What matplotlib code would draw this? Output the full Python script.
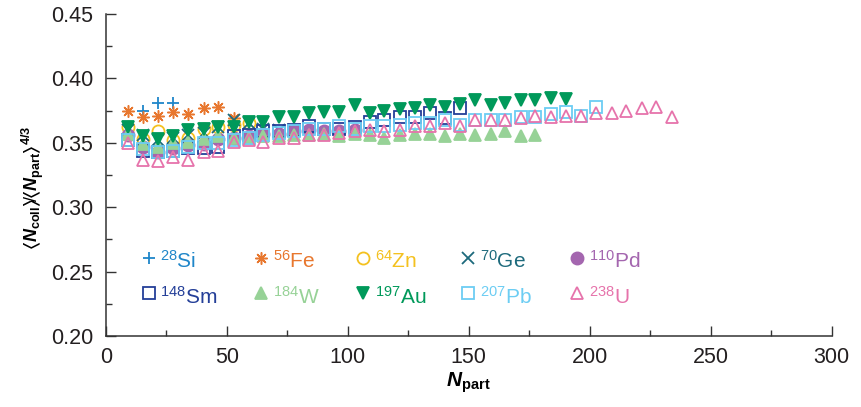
import matplotlib
matplotlib.use("Agg")
import matplotlib.pyplot as plt
from matplotlib.ticker import MultipleLocator

plt.rcParams['font.family'] = ['Liberation Sans', 'DejaVu Sans']
plt.rcParams['mathtext.fontset'] = 'custom'
plt.rcParams['mathtext.rm'] = 'Liberation Sans'
plt.rcParams['mathtext.it'] = 'Liberation Sans:italic'
plt.rcParams['mathtext.bf'] = 'Liberation Sans:bold'
plt.rcParams['mathtext.bfit'] = 'Liberation Sans:italic:bold'
plt.rcParams['mathtext.fallback'] = 'stixsans'

# centrality bins (Npart)
npart = [9, 15.5, 21.5, 28, 34, 40.5, 46.5, 53, 59, 65, 71.5, 78, 84, 90, 96.5,
         103, 109, 115, 121.5, 128, 134, 140, 146.5, 152.5, 159, 165, 171.5,
         177.5, 184, 190, 196.5, 202.5, 209, 215, 221.5, 227.5, 234]

si_x = [15.5, 21.5, 28]
si = [0.375, 0.381, 0.381]
fe = [0.375, 0.370, 0.371, 0.374, 0.372, 0.377, 0.378, 0.369]
zn = [0.362, 0.353, 0.359, 0.352, 0.354, 0.361, 0.362, 0.364, 0.365]
ge = [0.360, 0.356, 0.352, 0.354, 0.356, 0.358, 0.362, 0.368, 0.365, 0.361,
      0.360, 0.360]
pd_ = [0.356, 0.347, 0.343, 0.346, 0.348, 0.349, 0.353, 0.354, 0.355, 0.357,
       0.357, 0.359, 0.360, 0.359, 0.359, 0.360]
sm = [0.352, 0.344, 0.343, 0.344, 0.346, 0.346, 0.347, 0.355, 0.356, 0.359,
      0.359, 0.360, 0.363, 0.361, 0.361, 0.362, 0.366, 0.368, 0.370, 0.370,
      0.373, 0.369, 0.377]
w = [0.357, 0.349, 0.347, 0.350, 0.351, 0.353, 0.355, 0.354, 0.354, 0.355,
     0.355, 0.356, 0.356, 0.357, 0.355, 0.357, 0.356, 0.354, 0.356, 0.357,
     0.357, 0.355, 0.357, 0.356, 0.357, 0.359, 0.355, 0.356]
au = [0.362, 0.355, 0.353, 0.355, 0.360, 0.361, 0.362, 0.362, 0.366, 0.366,
      0.370, 0.370, 0.373, 0.374, 0.374, 0.379, 0.373, 0.375, 0.376, 0.377,
      0.379, 0.378, 0.380, 0.383, 0.379, 0.381, 0.383, 0.383, 0.385, 0.384]
pb = [0.352, 0.345, 0.343, 0.344, 0.347, 0.350, 0.350, 0.352, 0.354, 0.356,
      0.358, 0.359, 0.361, 0.361, 0.363, 0.361, 0.363, 0.363, 0.364, 0.365,
      0.365, 0.368, 0.364, 0.368, 0.368, 0.368, 0.370, 0.370, 0.372, 0.374,
      0.371, 0.378]
u = [0.350, 0.337, 0.336, 0.339, 0.337, 0.343, 0.344, 0.351, 0.352, 0.351,
     0.354, 0.354, 0.356, 0.356, 0.358, 0.359, 0.360, 0.359, 0.360, 0.363,
     0.363, 0.365, 0.363, 0.368, 0.368, 0.368, 0.369, 0.371, 0.370, 0.371,
     0.371, 0.373, 0.373, 0.375, 0.377, 0.378, 0.370]

# label, x, y, marker, color, filled
series = [
    (r'$^{\mathrm{28}}$Si', si_x, si, '+', '#1f86c9', True),
    (r'$^{\mathrm{56}}$Fe', npart[:len(fe)], fe, (8, 2, 0), '#e8772e', True),
    (r'$^{\mathrm{64}}$Zn', npart[:len(zn)], zn, 'o', '#f4c11f', False),
    (r'$^{\mathrm{70}}$Ge', npart[:len(ge)], ge, 'x', '#1d6a7c', True),
    (r'$^{\mathrm{110}}$Pd', npart[:len(pd_)], pd_, 'o', '#a466af', True),
    (r'$^{\mathrm{148}}$Sm', npart[:len(sm)], sm, 's', '#243f98', False),
    (r'$^{\mathrm{184}}$W', npart[:len(w)], w, '^', '#97d297', True),
    (r'$^{\mathrm{197}}$Au', npart[:len(au)], au, 'v', '#00995a', True),
    (r'$^{\mathrm{207}}$Pb', npart[:len(pb)], pb, 's', '#6ccdf3', False),
    (r'$^{\mathrm{238}}$U', npart[:len(u)], u, '^', '#e673ab', False),
]

fig = plt.figure(figsize=(8.61, 4.07), dpi=100)
ax = fig.add_axes([0.1228, 0.1744, 0.8432, 0.7912])

def style(marker, color, filled):
    ew = 1.1 if marker == (8, 2, 0) else 1.3
    face = color if filled else 'none'
    return dict(marker=marker, color=color, markerfacecolor=face,
                markeredgecolor=color, markeredgewidth=ew)

for label, xs, ys, mk, col, filled in series:
    ax.plot(xs, ys, linestyle='none', markersize=8.7, **style(mk, col, filled))

# legend: two rows of five, drawn by hand
leg_cols = [0.0597, 0.2145, 0.3549, 0.4996, 0.6498]
leg_rows = [(0.2606, 0.2528), (0.2334, 0.2249)]
for i, (label, xs, ys, mk, col, filled) in enumerate(series):
    r, c = divmod(i, 5)
    mx = leg_cols[c] * 300
    ax.plot([mx], [leg_rows[r][0]], linestyle='none', markersize=8.7,
            **style(mk, col, filled))
    ax.text(mx + 4.6, leg_rows[r][1], label, color=col, fontsize=15,
            va='baseline', ha='left')

ax.set_xlim(0, 300)
ax.set_ylim(0.20, 0.45)
ax.xaxis.set_major_locator(MultipleLocator(50))
ax.xaxis.set_minor_locator(MultipleLocator(25))
ax.yaxis.set_major_locator(MultipleLocator(0.05))
ax.yaxis.set_minor_locator(MultipleLocator(0.025))
ax.yaxis.set_major_formatter(matplotlib.ticker.FormatStrFormatter('%.2f'))

ax.spines['top'].set_visible(False)
ax.spines['right'].set_visible(False)
for s in ['left', 'bottom']:
    ax.spines[s].set_linewidth(1.1)
    ax.spines[s].set_color('#333333')
ax.tick_params(which='both', direction='in', color='#333333', width=1.0,
               labelsize=15.5, labelcolor='#231f20')
ax.tick_params(which='major', length=7)
ax.tick_params(which='minor', length=4.5)
ax.tick_params(axis='y', which='major', pad=9)
ax.tick_params(axis='x', which='major', pad=8)

ax.set_xlabel(r'$\mathbfit{N}_{\mathbf{part}}$', fontsize=15, labelpad=2)
ax.set_ylabel(r'$\mathbf{\langle}\mathbfit{N}_{\mathbf{coll}}\mathbf{\rangle}\!/\!\mathbf{\langle}\mathbfit{N}_{\mathbf{part}}\mathbf{\rangle}^{\mathbf{4/3}}$',
              fontsize=13)
ax.yaxis.set_label_coords(-0.082, 0.46)

fig.savefig('out.png', dpi=100)
